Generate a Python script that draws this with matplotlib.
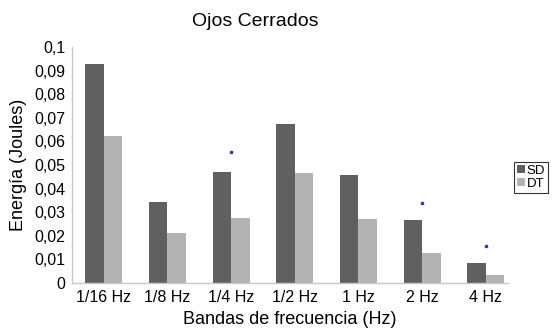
import numpy as np
import matplotlib
matplotlib.use("Agg")
import matplotlib.pyplot as plt

plt.rcParams['font.family'] = ['Liberation Sans', 'DejaVu Sans']

# data
bands = ["1/16 Hz", "1/8 Hz", "1/4 Hz", "1/2 Hz", "1 Hz", "2 Hz", "4 Hz"]
sd = [0.093, 0.0343, 0.0472, 0.0673, 0.0457, 0.0266, 0.0085]
dt = [0.0625, 0.0212, 0.0274, 0.0464, 0.0271, 0.0127, 0.0035]
# significance markers (band index, height)
star_idx = [2, 5, 6]
star_y = [0.0555, 0.0340, 0.0158]

yticks = [0, 0.01, 0.02, 0.03, 0.04, 0.05, 0.06, 0.07, 0.08, 0.09, 0.1]
ytick_labels = ["0", "0,01", "0,02", "0,03", "0,04", "0,05", "0,06", "0,07", "0,08", "0,09", "0,1"]

fig = plt.figure(figsize=(5.57, 3.29), dpi=100)
ax = fig.add_axes([72/557, 1 - 283/329, (508-72)/557, (283-47)/329])

x = np.arange(len(bands))
w = 0.29
ax.bar(x - w/2, sd, w, color="#606060", label="SD")
ax.bar(x + w/2, dt, w, color="#b3b3b3", label="DT")
ax.plot(star_idx, star_y, ls="none", marker="s", ms=1.5, color="#3a3aa8")

ax.set_xlim(-0.5, 6.35)
ax.set_ylim(0, 0.1)
ax.set_xticks(x)
ax.set_xticklabels(bands, fontsize=11.5)
ax.set_yticks(yticks)
ax.set_yticklabels(ytick_labels, fontsize=11.5)
ax.tick_params(length=0, pad=5)

for s in ["top", "right"]:
    ax.spines[s].set_visible(False)
for s in ["left", "bottom"]:
    ax.spines[s].set_color("#c8c8c8")
    ax.spines[s].set_linewidth(1)

ax.set_xlabel("Bandas de frecuencia (Hz)", fontsize=13, labelpad=4)
ax.set_ylabel("Energía (Joules)", fontsize=13, labelpad=5)
fig.text(255/557, 1 - 21/329, "Ojos Cerrados", fontsize=14, ha="center", va="center")

leg = ax.legend(loc="upper left", bbox_to_anchor=(514/557, 1 - 162/329),
                bbox_transform=fig.transFigure, fontsize=9.5, frameon=True,
                fancybox=False, handlelength=0.6, handleheight=0.6,
                handletextpad=0.15, borderpad=0.2, labelspacing=0.1,
                borderaxespad=0)
leg.get_frame().set_edgecolor("black")
leg.get_frame().set_linewidth(0.8)

fig.savefig("out.png", dpi=100)
